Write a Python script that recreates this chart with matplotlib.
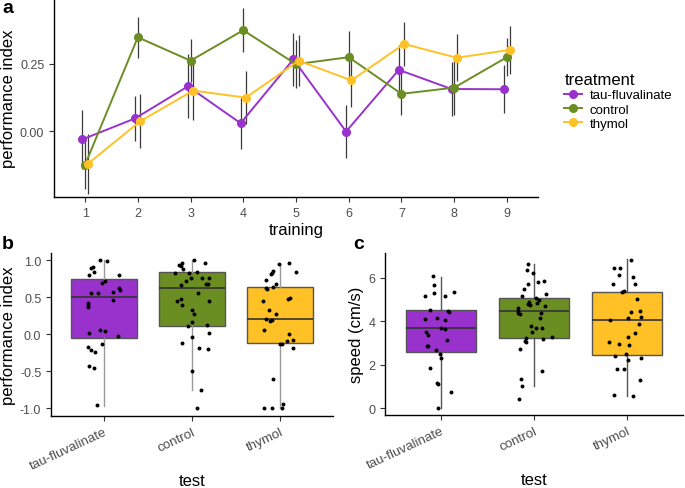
import matplotlib
matplotlib.use("Agg")
import matplotlib.pyplot as plt
import numpy as np

plt.rcParams['font.family'] = ['Liberation Sans', 'DejaVu Sans']

# ---------------- data ----------------
treatments = ["tau-fluvalinate", "control", "thymol"]
colors = {"tau-fluvalinate": "#9932CC", "control": "#6B8E23", "thymol": "#FFC125"}
training = [1, 2, 3, 4, 5, 6, 7, 8, 9]

pi_tau = [-0.031, 0.047, 0.166, 0.029, 0.266, -0.002, 0.227, 0.156, 0.155]
se_tau = [0.110, 0.084, 0.119, 0.094, 0.098, 0.099, 0.093, 0.100, 0.089]
pi_ctrl = [-0.125, 0.348, 0.261, 0.374, 0.248, 0.274, 0.138, 0.161, 0.274]
se_ctrl = [0.090, 0.077, 0.080, 0.082, 0.090, 0.097, 0.080, 0.100, 0.070]
pi_thy = [-0.122, 0.037, 0.150, 0.124, 0.261, 0.188, 0.323, 0.272, 0.301]
se_thy = [0.110, 0.099, 0.110, 0.098, 0.095, 0.100, 0.080, 0.088, 0.088]

# panel b: test performance index - box stats
b_q1 = [-0.054, 0.115, -0.12]
b_med = [0.505, 0.62, 0.21]
b_q3 = [0.743, 0.84, 0.635]
b_lo = [-0.97, -0.75, -1.0]
b_hi = [1.0, 1.0, 0.955]

# panel b points (jitter offset, value)
b_tau_dx = [-0.045, 0.03, -0.128, -0.151, -0.113, -0.17, 0.166, 0.015, -0.026, 0.174, 0.181,
            -0.147, -0.064, 0.102, -0.181, -0.181, -0.181, 0.102, -0.166, -0.049, 0.008, 0.162,
            -0.019, -0.177, -0.143, -0.102, -0.17, -0.113, -0.083]
b_tau_y = [1.0, 0.986, 0.914, 0.892, 0.847, 0.797, 0.797, 0.725, 0.689, 0.622, 0.595,
           0.554, 0.554, 0.568, 0.428, 0.401, 0.374, 0.464, 0.023, 0.063, 0.045, -0.027,
           -0.126, -0.171, -0.216, -0.239, -0.428, -0.45, -0.959]
b_ctrl_dx = [0.026, 0.143, -0.117, -0.147, -0.128, -0.106, -0.196, -0.038, 0.053, -0.011,
             -0.068, -0.125, 0.109, 0.192, 0.155, 0.177, 0.064, -0.17, -0.128, -0.113, 0.192,
             -0.004, 0.019, -0.004, -0.042, 0.166, 0.004, 0.192, -0.117, 0.083, 0.177, 0.0,
             0.102, 0.053]
b_ctrl_y = [1.0, 0.964, 0.968, 0.937, 0.923, 0.878, 0.829, 0.833, 0.842, 0.757,
            0.716, 0.671, 0.757, 0.766, 0.685, 0.685, 0.563, 0.45, 0.473, 0.392, 0.446,
            0.329, 0.279, 0.167, 0.117, 0.122, -0.041, 0.014, -0.122, -0.189, -0.194, -0.495,
            -0.757, -1.0]
b_thy_dx = [-0.015, 0.098, -0.094, -0.083, 0.181, -0.106, -0.158, -0.042, -0.087, -0.158,
            -0.147, 0.087, 0.106, -0.192, -0.125, -0.049, -0.158, -0.117, -0.094, -0.189,
            0.098, 0.151, 0.083, 0.0, 0.019, 0.151, -0.083, -0.189, -0.094, 0.019, 0.034]
b_thy_y = [0.955, 0.968, 0.833, 0.856, 0.838, 0.811, 0.734, 0.676, 0.64, 0.631,
           0.608, 0.482, 0.491, 0.45, 0.333, 0.27, 0.212, 0.176, 0.194, 0.059,
           0.0, -0.072, -0.09, -0.135, -0.135, -0.189, -0.604, -1.0, -1.0, -1.0, -0.937]

# panel c: speed - box stats
c_q1 = [2.6, 3.25, 2.43]
c_med = [3.68, 4.46, 4.08]
c_q3 = [4.52, 5.06, 5.37]
c_lo = [0.0, 1.03, 0.57]
c_hi = [6.03, 6.63, 6.85]

c_tau_dx = [-0.082, -0.071, -0.078, -0.17, 0.05, 0.142, -0.113, 0.074, 0.089, -0.17, -0.039,
            0.043, 0.004, 0.05, -0.163, -0.138, 0.067, -0.149, -0.135, -0.05, -0.011, 0.0,
            -0.113, -0.043, -0.035, 0.113, -0.028]
c_tau_y = [6.08, 5.68, 5.32, 5.17, 5.18, 5.35, 4.54, 4.49, 4.45, 4.09, 4.14,
           4.06, 3.69, 3.66, 3.49, 3.37, 3.15, 2.88, 2.86, 2.66, 2.48, 2.29,
           1.86, 1.15, 1.12, 0.74, 0.0]
c_ctrl_dx = [-0.067, -0.071, -0.011, -0.06, 0.039, 0.103, -0.106, 0.128, -0.128, 0.021,
             0.053, -0.05, -0.06, 0.032, -0.039, 0.117, -0.17, -0.167, -0.17, -0.149, 0.074,
             0.067, -0.028, 0.018, 0.085, -0.018, -0.089, -0.096, -0.085, 0.099, 0.195,
             -0.145, 0.085, -0.135, -0.131, -0.163]
c_ctrl_y = [6.65, 6.36, 6.22, 5.74, 5.82, 5.88, 5.51, 5.25, 5.15, 5.06,
            5.0, 4.91, 4.8, 4.83, 4.74, 4.71, 4.6, 4.49, 4.38, 4.35, 4.4,
            4.14, 3.8, 3.71, 3.68, 3.52, 3.22, 3.09, 3.03, 3.18, 3.28,
            2.71, 1.71, 1.35, 1.03, 0.42]
c_thy_dx = [0.046, -0.145, -0.074, -0.085, 0.067, -0.149, 0.085, -0.057, -0.032, 0.106,
            0.046, 0.135, 0.149, 0.007, -0.181, 0.131, 0.085, 0.007, -0.195, -0.082,
            0.025, -0.128, -0.011, 0.007, 0.149, -0.103, -0.032, 0.138, -0.142, 0.06]
c_thy_y = [6.83, 6.46, 6.45, 6.14, 6.03, 5.74, 5.71, 5.34, 5.4, 5.03,
           4.45, 4.49, 4.22, 4.15, 4.08, 3.89, 3.48, 3.26, 3.03, 2.95,
           2.91, 2.38, 2.48, 2.23, 2.32, 1.8, 1.8, 1.31, 0.6, 0.57]

# ---------------- figure ----------------
fig = plt.figure(figsize=(6.85, 4.89), dpi=100)
TICK_COLOR = "#4D4D4D"
TICK_FS = 9
TITLE_FS = 12


def style_axes(ax):
    for s in ["top", "right"]:
        ax.spines[s].set_visible(False)
    for s in ["left", "bottom"]:
        ax.spines[s].set_linewidth(1.0)
        ax.spines[s].set_color("black")
    ax.tick_params(axis="both", colors="#333333", labelcolor=TICK_COLOR,
                   labelsize=TICK_FS, length=3.5, width=0.8)


# panel a
axa = fig.add_axes([0.0788, 0.595, 0.7066, 0.405])
style_axes(axa)
series = [("tau-fluvalinate", pi_tau, se_tau, -0.05),
          ("control", pi_ctrl, se_ctrl, 0.0),
          ("thymol", pi_thy, se_thy, 0.05)]
x = np.array(training, dtype=float)
for name, vals, se, dx in series:
    axa.errorbar(x + dx, vals, yerr=se, fmt="none", ecolor="#3a3a3a",
                 elinewidth=0.9, capsize=0, zorder=2)
for name, vals, se, dx in series:
    axa.plot(x + dx, vals, "-o", color=colors[name], lw=1.4, ms=5.5,
             label=name, zorder=3)
axa.set_xlim(0.41, 9.59)
axa.set_ylim(-0.245, 0.49)
axa.set_xticks(training)
axa.set_yticks([0.0, 0.25])
axa.set_yticklabels(["0.00", "0.25"])
axa.set_xlabel("training", fontsize=TITLE_FS, labelpad=2)
axa.set_ylabel("performance index", fontsize=TITLE_FS, labelpad=3)
leg = axa.legend(title="treatment", loc="upper left", bbox_to_anchor=(1.03, 0.69),
                 frameon=False, fontsize=9.5, title_fontsize=12,
                 handlelength=1.3, handletextpad=0.6, labelspacing=0.15)
leg._legend_box.align = "left"


def box_panel(rect, q1, med, q3, lo, hi, pts, ylim, yticks, yticklabels, ylabel,
              whisker_color):
    ax = fig.add_axes(rect)
    style_axes(ax)
    stats = []
    for i in range(3):
        stats.append(dict(q1=q1[i], med=med[i], q3=q3[i], whislo=lo[i], whishi=hi[i],
                          fliers=[]))
    bp = ax.bxp(stats, positions=[1, 2, 3], widths=0.75, patch_artist=True,
                showcaps=False, showfliers=False,
                boxprops=dict(edgecolor="#555555", linewidth=1.0),
                medianprops=dict(color="#333333", linewidth=1.2),
                whiskerprops=dict(color=whisker_color, linewidth=1.0))
    for patch, name in zip(bp["boxes"], treatments):
        patch.set_facecolor(colors[name])
    for i, (dxs, ys) in enumerate(pts):
        ax.scatter(np.array(dxs) + (i + 1), ys, s=8, color="black", zorder=4,
                   linewidths=0)
    ax.set_xlim(0.4, 3.6)
    ax.set_ylim(*ylim)
    ax.set_yticks(yticks)
    ax.set_yticklabels(yticklabels)
    ax.set_xticks([1, 2, 3])
    ax.set_xticklabels(treatments, rotation=25, ha="right", rotation_mode="anchor",
                       fontsize=9.6)
    ax.set_xlabel("test", fontsize=TITLE_FS, labelpad=1)
    ax.set_ylabel(ylabel, fontsize=TITLE_FS, labelpad=3)
    return ax


axb = box_panel([0.0745, 0.1479, 0.4117, 0.3327], b_q1, b_med, b_q3, b_lo, b_hi,
                [(b_tau_dx, b_tau_y), (b_ctrl_dx, b_ctrl_y), (b_thy_dx, b_thy_y)],
                (-1.1, 1.1), [-1.0, -0.5, 0.0, 0.5, 1.0],
                ["-1.0", "-0.5", "0.0", "0.5", "1.0"], "performance index", "#9a9a9a")
axc = box_panel([0.562, 0.1493, 0.435, 0.3313], c_q1, c_med, c_q3, c_lo, c_hi,
                [(c_tau_dx, c_tau_y), (c_ctrl_dx, c_ctrl_y), (c_thy_dx, c_thy_y)],
                (-0.32, 7.15), [0, 2, 4, 6], ["0", "2", "4", "6"], "speed (cm/s)", "#555555")

fig.text(0.003, 0.982, "a", fontsize=14, fontweight="bold", va="center")
fig.text(0.003, 0.500, "b", fontsize=14, fontweight="bold", va="center")
fig.text(0.515, 0.500, "c", fontsize=14, fontweight="bold", va="center")

fig.savefig("out.png", dpi=100)
